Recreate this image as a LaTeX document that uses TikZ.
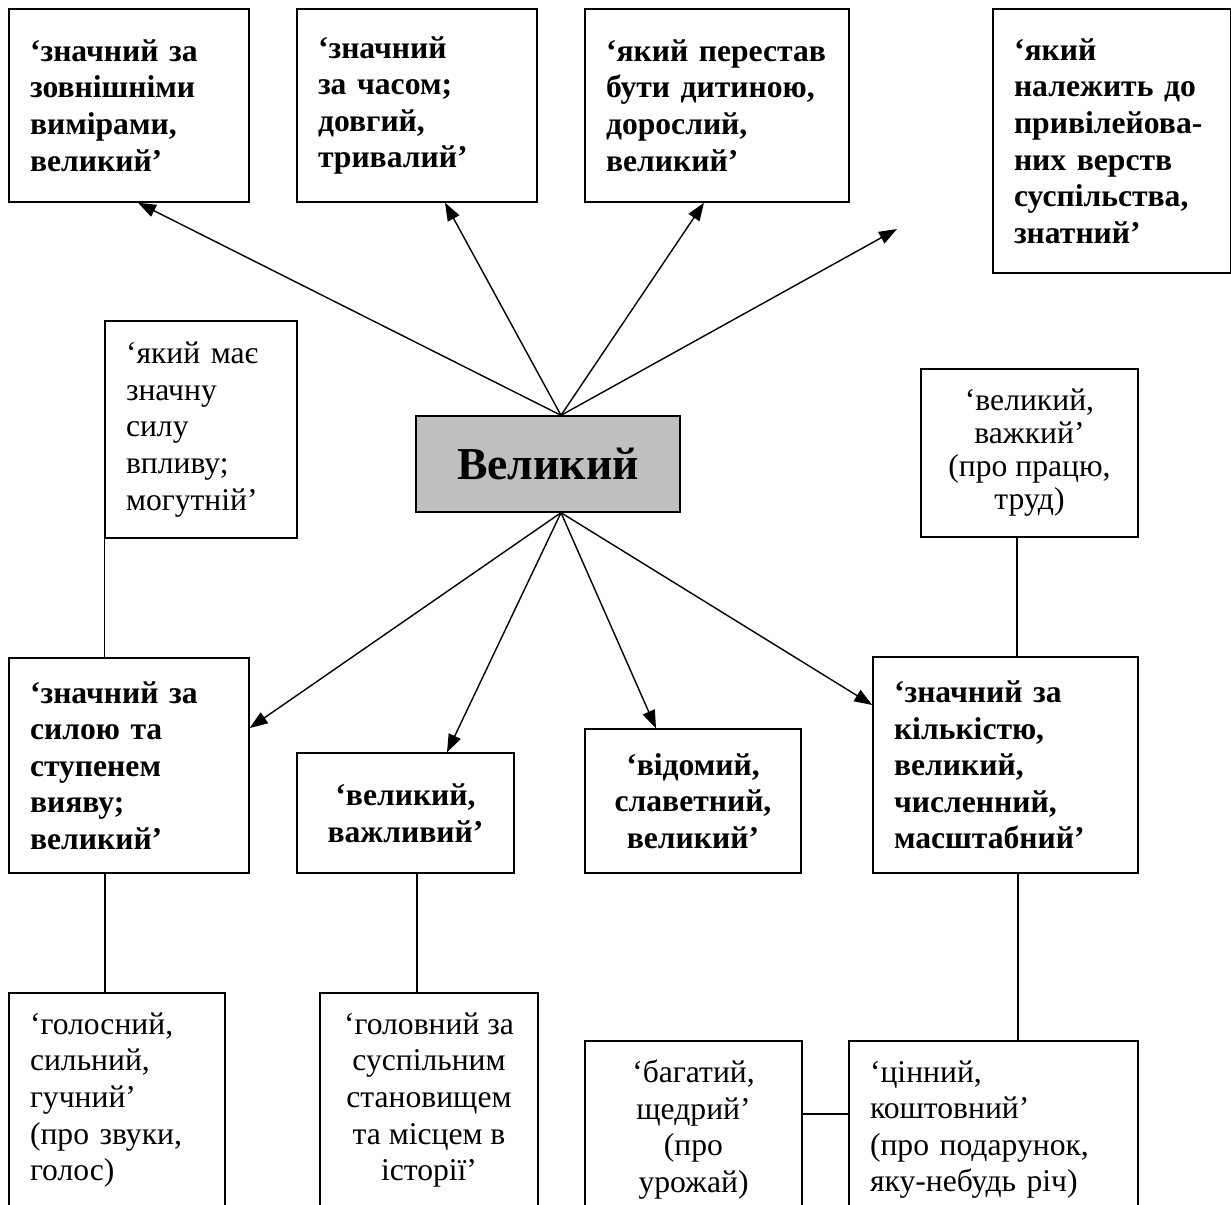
\documentclass[tikz,border=0pt]{standalone}
\usepackage{fontspec}
\setmainfont{Liberation Serif}
\usetikzlibrary{arrows.meta}
\tikzset{
    % Bold sense boxes (main meanings)
    sensebold/.style={
        draw=black,
        fill=white,
        line width=0.8pt,
        inner xsep=0.42cm,
        inner ysep=0pt,
        font=\fontsize{18pt}{20.8pt}\selectfont\bfseries
    },
    % Plain sense boxes (shades of meaning)
    sensebox/.style={
        draw=black,
        fill=white,
        line width=0.8pt,
        inner xsep=0.42cm,
        inner ysep=0pt,
        font=\fontsize{18pt}{20.8pt}\selectfont
    },
    % Left aligned text of a given width
    lefttext/.style={
        text width=#1,
        align=left
    },
    % Central word
    hubbox/.style={
        draw=black,
        fill=black!25,
        line width=0.8pt,
        minimum width=5.28cm,
        minimum height=1.92cm,
        font=\fontsize{26pt}{30pt}\selectfont\bfseries
    },
    % Arrows from the central word
    linkarrow/.style={
        -{Triangle[length=0.36cm,width=0.26cm]},
        line width=0.8pt,
        black
    },
    % Plain connectors
    linkline/.style={
        line width=0.8pt,
        black
    }
}

\begin{document}
\begin{tikzpicture}[x=0.02cm, y=-0.02cm]

\useasboundingbox (0,0) rectangle (1231,1204);
\clip (0,0) rectangle (1231,1204);

% ==================== CENTRAL WORD ====================
\node[hubbox] (hub) at (548, 464) {Великий};

% ==================== TOP ROW ====================
\node[sensebold, lefttext=3.96cm, minimum width=4.8cm, minimum height=3.86cm] (size) at (129, 105.5)
    {‘значний за\\зовнішніми\\вимірами,\\великий’};
\node[sensebold, lefttext=3.96cm, minimum width=4.8cm, minimum height=3.86cm] (time) at (417, 105.5)
    {‘значний\\за часом;\\довгий,\\тривалий’};
\node[sensebold, lefttext=4.44cm, minimum width=5.28cm, minimum height=3.86cm] (adult) at (717, 105.5)
    {‘який перестав\\бути дитиною,\\дорослий,\\великий’};
\node[sensebold, lefttext=3.91cm, minimum width=4.75cm, minimum height=5.28cm] (noble) at (1111.75, 141)
    {‘який\\належить до\\привілейова-\\них верств\\суспільства,\\знатний’};
\coordinate (free) at (897, 229);

% Arrows: hub to top row
\draw[linkarrow] ([xshift=0.26cm]hub.north) -- ([xshift=0.18cm]size.south);
\draw[linkarrow] ([xshift=0.26cm]hub.north) -- ([xshift=0.56cm]time.south);
\draw[linkarrow] ([xshift=0.26cm]hub.north) -- ([xshift=-0.26cm]adult.south);
\draw[linkarrow] ([xshift=0.26cm]hub.north) -- (free);

% ==================== SIDE BOXES ====================
\node[sensebox, lefttext=3.0cm, minimum width=3.84cm, minimum height=4.34cm] (power) at (201, 429.5)
    {‘який має\\значну\\силу\\впливу;\\могутній’};
\node[sensebox, align=center, minimum width=4.34cm, minimum height=3.36cm,
      font=\fontsize{18pt}{18.8pt}\selectfont] (work) at (1029.5, 453)
    {‘великий,\\важкий’\\(про працю,\\труд)};

% ==================== MIDDLE ROW ====================
\node[sensebold, lefttext=3.96cm, minimum width=4.8cm, minimum height=4.3cm] (force) at (129, 765.5)
    {‘значний за\\силою та\\ступенем\\вияву;\\великий’};
\node[sensebold, align=center, minimum width=4.34cm, minimum height=2.4cm] (important) at (405.5, 813)
    {‘великий,\\важливий’};
\node[sensebold, align=center, minimum width=4.32cm, minimum height=2.88cm] (famous) at (693, 801)
    {‘відомий,\\славетний,\\великий’};
\node[sensebold, lefttext=4.46cm, minimum width=5.3cm, minimum height=4.32cm] (amount) at (1005.5, 765)
    {‘значний за\\кількістю,\\великий,\\численний,\\масштабний’};

% Arrows: hub to middle row
\draw[linkarrow] ([xshift=0.26cm]hub.south) -- ([yshift=0.75cm]force.east);
\draw[linkarrow] ([xshift=0.26cm]hub.south) -- ([xshift=0.83cm]important.north);
\draw[linkarrow] ([xshift=0.26cm]hub.south) -- ([xshift=-0.74cm]famous.north);
\draw[linkarrow] ([xshift=0.26cm]hub.south) -- ([yshift=1.2cm]amount.west);

% ==================== BOTTOM ROW ====================
\node[sensebox, lefttext=3.48cm, minimum width=4.32cm, minimum height=4.28cm] (loud) at (117, 1100)
    {‘голосний,\\сильний,\\гучний’\\(про звуки,\\голос)};
\node[sensebox, align=center, minimum width=4.36cm, minimum height=4.28cm] (chief) at (429, 1100)
    {‘головний за\\суспільним\\становищем\\та місцем в\\історії’};
\node[sensebox, align=center, minimum width=4.34cm, minimum height=3.54cm] (rich) at (693.5, 1129.5)
    {‘багатий,\\щедрий’\\(про\\урожай)};
\node[sensebox, lefttext=4.94cm, minimum width=5.78cm, minimum height=3.54cm] (precious) at (993.5, 1129.5)
    {‘цінний,\\коштовний’\\(про подарунок,\\яку-небудь річ)};

% ==================== PLAIN CONNECTORS ====================
\draw[linkline] (power.south west) -- (power.south west |- force.north);
\draw[linkline] ([xshift=-0.25cm]work.south) -- ([xshift=-0.25cm]work.south |- amount.north);
\draw[linkline] ([xshift=-0.48cm]force.south) -- ([xshift=-0.48cm]force.south |- loud.north);
\draw[linkline] ([xshift=0.23cm]important.south) -- ([xshift=0.23cm]important.south |- chief.north);
\draw[linkline] ([xshift=0.25cm]amount.south) -- ([xshift=0.25cm]amount.south |- precious.north);
\draw[linkline] ([yshift=0.31cm]rich.east) -- ([yshift=0.31cm]rich.east -| precious.west);

\end{tikzpicture}
\end{document}
